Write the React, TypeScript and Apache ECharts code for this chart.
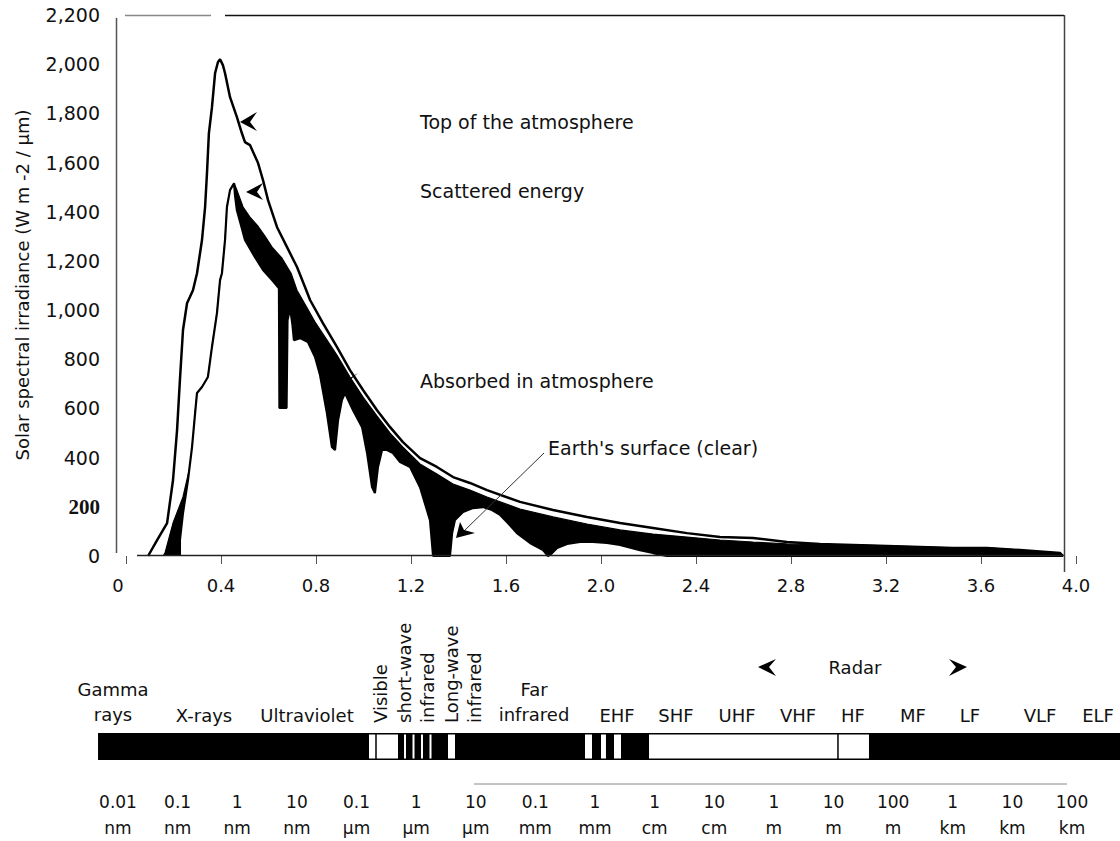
import React, { useEffect, useRef } from 'react';
import * as echarts from 'echarts';

const FONT = 'DejaVu Sans';
const INK = '#111';

// Wavelength (µm), irradiance (W m-2 µm-1)
const topOfAtmosphere: [number, number][] = [
  [0.093, 0], [0.131, 65], [0.173, 134], [0.198, 309], [0.215, 512], [0.227, 715], [0.24, 919],
  [0.257, 1028], [0.269, 1053], [0.282, 1081], [0.299, 1150], [0.32, 1285], [0.333, 1419],
  [0.341, 1557], [0.349, 1719], [0.362, 1825], [0.375, 1963], [0.387, 2008], [0.396, 2020],
  [0.408, 1996], [0.417, 1963], [0.438, 1866], [0.467, 1785], [0.488, 1719], [0.501, 1683],
  [0.522, 1671], [0.556, 1598], [0.577, 1528], [0.598, 1447], [0.636, 1337], [0.678, 1256],
  [0.72, 1175], [0.754, 1093], [0.775, 1041], [0.829, 947], [0.888, 850], [0.943, 756],
  [0.998, 675], [1.057, 593], [1.112, 524], [1.166, 463], [1.238, 398], [1.309, 362],
  [1.377, 321], [1.448, 297], [1.52, 268], [1.659, 220], [1.798, 187], [1.941, 159],
  [2.08, 134], [2.219, 114], [2.362, 93], [2.501, 77], [2.64, 73], [2.783, 57], [2.922, 49],
  [3.061, 45], [3.204, 41], [3.343, 37], [3.482, 33], [3.625, 33], [3.764, 24], [3.933, 12],
  [3.945, 0],
];

// upper edge of the absorbed (black) band = top of atmosphere minus scattered energy
const scatteredEdge: [number, number][] = [
  [0.156, 0], [0.164, 12], [0.198, 134], [0.24, 240], [0.269, 362], [0.282, 472], [0.291, 581],
  [0.299, 663], [0.32, 687], [0.345, 728], [0.362, 850], [0.383, 988], [0.396, 1122],
  [0.404, 1150], [0.417, 1285], [0.425, 1419], [0.438, 1488], [0.455, 1516], [0.467, 1488],
  [0.493, 1419], [0.522, 1378], [0.556, 1341], [0.585, 1301], [0.615, 1256], [0.657, 1211],
  [0.695, 1150], [0.72, 1081], [0.758, 1016], [0.796, 951], [0.838, 890], [0.888, 817],
  [0.943, 728], [0.998, 646], [1.057, 569], [1.112, 500], [1.166, 443], [1.238, 374],
  [1.309, 333], [1.377, 293], [1.448, 268], [1.52, 240], [1.659, 191], [1.798, 159],
  [1.941, 130], [2.08, 106], [2.219, 89], [2.362, 77], [2.501, 65], [2.64, 57], [2.783, 49],
  [2.922, 45], [3.061, 45], [3.204, 41], [3.343, 37], [3.482, 33], [3.625, 33], [3.764, 24],
  [3.933, 12], [3.945, 0],
];

// irradiance reaching the Earth's surface (clear sky)
const surfaceClear: [number, number][] = [
  [0.227, 0], [0.227, 65], [0.24, 175], [0.261, 309], [0.278, 443], [0.291, 581], [0.299, 663],
  [0.32, 687], [0.345, 728], [0.362, 850], [0.383, 988], [0.396, 1122], [0.404, 1150],
  [0.417, 1285], [0.425, 1419], [0.438, 1488], [0.455, 1516], [0.459, 1467], [0.467, 1406],
  [0.484, 1346], [0.501, 1285], [0.543, 1215], [0.577, 1163], [0.615, 1122], [0.644, 1089],
  [0.646, 602], [0.676, 602], [0.68, 959], [0.691, 1008], [0.701, 939], [0.707, 878],
  [0.733, 886], [0.766, 870], [0.796, 809], [0.817, 736], [0.846, 581], [0.867, 443],
  [0.88, 431], [0.893, 553], [0.909, 634], [0.922, 663], [0.956, 593], [0.994, 524],
  [1.015, 419], [1.036, 280], [1.048, 256], [1.061, 362], [1.078, 431], [1.099, 431],
  [1.124, 419], [1.154, 382], [1.196, 362], [1.238, 280], [1.28, 146], [1.293, 0], [1.364, 0],
  [1.373, 93], [1.385, 146], [1.419, 179], [1.461, 195], [1.503, 199], [1.541, 187],
  [1.575, 167], [1.608, 134], [1.646, 93], [1.701, 53], [1.756, 24], [1.777, 0], [1.794, 12],
  [1.815, 33], [1.857, 49], [1.912, 57], [1.966, 57], [2.025, 53], [2.08, 45], [2.164, 24],
  [2.219, 12], [2.278, 0], [3.945, 0],
];

// Electromagnetic spectrum bar, positions in log10(wavelength / m)
const spectrumExtent: [number, number] = [-11.335, 5.805];
const transmissionWindows: [number, number][] = [
  [-6.79, -6.304], [-6.203, -6.17], [-6.061, -6.027], [-5.918, -5.885], [-5.776, -5.742],
  [-5.465, -5.348], [-3.168, -3.05], [-2.899, -2.816], [-2.681, -2.564], [-2.094, 1.595],
];
const windowDividers: number[] = [-6.673, 1.075];
const tickNumbers = ['0.01', '0.1', '1', '10', '0.1', '1', '10', '0.1', '1', '1', '10', '1', '10', '100', '1', '10', '100'];
const tickUnits = ['nm', 'nm', 'nm', 'nm', 'µm', 'µm', 'µm', 'mm', 'mm', 'cm', 'cm', 'm', 'm', 'm', 'km', 'km', 'km'];

const spectrumRows: number[][] = [
  [spectrumExtent[0], spectrumExtent[1], 0],
  ...transmissionWindows.map(([a, b]) => [a, b, 1]),
  ...windowDividers.map((c) => [c, c, 2]),
];

const txt = (text: string, x: number, y: number, extra: any = {}, style: any = {}) => ({
  type: 'text',
  x,
  y,
  z: 20,
  ...extra,
  style: {
    text,
    fontFamily: FONT,
    fontSize: 18,
    fill: INK,
    align: 'center',
    verticalAlign: 'middle',
    ...style,
  },
});

const poly = (points: number[][]) => ({
  type: 'polygon',
  z: 20,
  shape: { points },
  style: { fill: '#000' },
});

const hline = (x1: number, y1: number, x2: number, y2: number, stroke: string, lineWidth: number) => ({
  type: 'line',
  z: 15,
  shape: { x1, y1, x2, y2 },
  style: { stroke, lineWidth },
});

const option: any = {
  animation: false,
  backgroundColor: '#ffffff',
  grid: [
    { left: 126, top: 15, width: 950, height: 541 },
    { left: 118, top: 733, width: 954, height: 27 },
  ],
  xAxis: [
    {
      gridIndex: 0,
      type: 'value',
      min: 0,
      max: 4,
      interval: 0.4,
      axisLine: { show: false },
      axisTick: { show: true, length: 8, lineStyle: { color: '#555', width: 1 } },
      splitLine: { show: false },
      axisLabel: {
        margin: 20,
        fontFamily: FONT,
        fontSize: 18,
        color: INK,
        formatter: (v: number) => (v === 0 ? '{z|0}' : v.toFixed(1)),
        rich: { z: { fontFamily: FONT, fontSize: 18, color: INK, padding: [0, 16, 0, 0] } },
      },
    },
    {
      gridIndex: 1,
      type: 'value',
      min: -11,
      max: 5,
      interval: 1,
      position: 'bottom',
      offset: 24,
      axisLine: { show: false },
      axisTick: { show: true, inside: true, length: 6, lineStyle: { color: '#777', width: 1 } },
      splitLine: { show: false },
      axisLabel: {
        margin: 5,
        fontFamily: FONT,
        fontSize: 17,
        lineHeight: 26,
        color: INK,
        formatter: (v: number) => {
          const i = Math.round(v) + 11;
          return `${tickNumbers[i]}\n${tickUnits[i]}`;
        },
      },
    },
  ],
  yAxis: [
    {
      gridIndex: 0,
      type: 'value',
      min: 0,
      max: 2200,
      interval: 200,
      axisLine: { show: false },
      axisTick: { show: false },
      splitLine: { show: false },
      axisLabel: {
        margin: 26,
        fontFamily: FONT,
        fontSize: 19,
        color: INK,
        formatter: (v: number) => (v === 200 ? '{b|200}' : v.toLocaleString('en-US')),
        rich: {
          b: { fontFamily: 'Liberation Serif', fontWeight: 'bold', fontSize: 21, color: INK },
        },
      },
    },
    { gridIndex: 1, type: 'value', min: 0, max: 1, show: false },
  ],
  series: [
    {
      name: 'Absorbed in atmosphere',
      type: 'line',
      xAxisIndex: 0,
      yAxisIndex: 0,
      data: scatteredEdge,
      symbol: 'none',
      lineStyle: { color: '#000', width: 1.2 },
      areaStyle: { color: '#000', opacity: 1 },
      z: 2,
    },
    {
      name: "Earth's surface (clear)",
      type: 'line',
      xAxisIndex: 0,
      yAxisIndex: 0,
      data: surfaceClear,
      symbol: 'none',
      lineStyle: { color: '#000', width: 2.2 },
      areaStyle: { color: '#fff', opacity: 1 },
      z: 3,
    },
    {
      name: 'Top of the atmosphere',
      type: 'line',
      xAxisIndex: 0,
      yAxisIndex: 0,
      data: topOfAtmosphere,
      symbol: 'none',
      lineStyle: { color: '#000', width: 2.5 },
      z: 4,
    },
    {
      name: 'Spectrum',
      type: 'custom',
      xAxisIndex: 1,
      yAxisIndex: 1,
      clip: false,
      encode: { x: [0, 1] },
      data: spectrumRows,
      renderItem: (_params: any, api: any) => {
        const a = api.value(0);
        const b = api.value(1);
        const kind = api.value(2);
        const p0 = api.coord([a, 1]);
        const p1 = api.coord([b, 0]);
        if (kind === 0) {
          return {
            type: 'rect',
            shape: { x: p0[0], y: p0[1], width: p1[0] - p0[0], height: p1[1] - p0[1] },
            style: { fill: '#000' },
          };
        }
        if (kind === 1) {
          return {
            type: 'rect',
            shape: { x: p0[0], y: p0[1] + 1.5, width: p1[0] - p0[0], height: p1[1] - p0[1] - 3 },
            style: { fill: '#fff' },
          };
        }
        return {
          type: 'line',
          shape: { x1: p0[0], y1: p0[1], x2: p0[0], y2: p1[1] },
          style: { stroke: '#000', lineWidth: 1.5 },
        };
      },
    },
  ],
  graphic: [
    // frame of the plot
    hline(116.5, 18, 116.5, 553, '#555', 1.5),
    hline(125, 15.5, 211, 15.5, '#888', 1.5),
    hline(225, 15.5, 1064, 15.5, '#111', 1.5),
    hline(1064.5, 15, 1064.5, 572, '#444', 1.5),
    hline(137, 555.5, 1064, 555.5, '#222', 1.5),
    // partial wavelength axis line
    hline(474, 784, 1067, 784, '#888', 1),
    // y title
    txt('Solar spectral irradiance (W m -2 / µm)', 22, 285, { rotation: Math.PI / 2 }, { fontSize: 18 }),
    // annotations
    txt('Top of the atmosphere', 420, 122, {}, { align: 'left', fontSize: 19 }),
    txt('Scattered energy', 420, 191, {}, { align: 'left', fontSize: 19 }),
    txt('Absorbed in atmosphere', 420, 381, {}, { align: 'left', fontSize: 19 }),
    txt("Earth's surface (clear)", 548, 448, {}, { align: 'left', fontSize: 19 }),
    poly([[240, 122], [257, 112], [250, 122], [257, 131]]),
    poly([[246, 192], [263, 183], [257, 192], [263, 200]]),
    poly([[342, 383], [358, 373], [350, 380], [354, 389]]),
    hline(544, 453, 464, 531, '#333', 1),
    poly([[456, 538], [460, 522], [464, 530], [475, 533]]),
    // spectrum labels
    txt('Gamma\nrays', 113, 702, {}, { lineHeight: 25 }),
    txt('X-rays', 204, 715),
    txt('Ultraviolet', 307, 715),
    txt('Visible', 380, 723, { rotation: Math.PI / 2 }, { align: 'left' }),
    txt('short-wave\ninfrared', 415.5, 723, { rotation: Math.PI / 2 }, { align: 'left', lineHeight: 23 }),
    txt('Long-wave\ninfrared', 462.5, 723, { rotation: Math.PI / 2 }, { align: 'left', lineHeight: 23 }),
    txt('Far\ninfrared', 534, 702, {}, { lineHeight: 25 }),
    txt('EHF', 617, 715),
    txt('SHF', 676, 715),
    txt('UHF', 737, 715),
    txt('VHF', 798, 715),
    txt('HF', 853, 715),
    txt('MF', 913, 715),
    txt('LF', 970, 715),
    txt('VLF', 1040, 715),
    txt('ELF', 1098, 715),
    txt('Radar', 855, 667),
    poly([[758, 667], [776, 659], [769, 667], [776, 676]]),
    poly([[967, 667], [949, 659], [956, 667], [949, 676]]),
  ],
};

export default function App() {
  const ref = useRef<HTMLDivElement>(null);
  useEffect(() => {
    const chart = echarts.init(ref.current as HTMLDivElement, undefined, { renderer: 'svg' });
    chart.setOption(option);
    return () => chart.dispose();
  }, []);
  return (
    <div
      ref={ref}
      style={{ position: 'absolute', left: 0, top: 0, width: 1120, height: 841, background: '#fff' }}
    />
  );
}
